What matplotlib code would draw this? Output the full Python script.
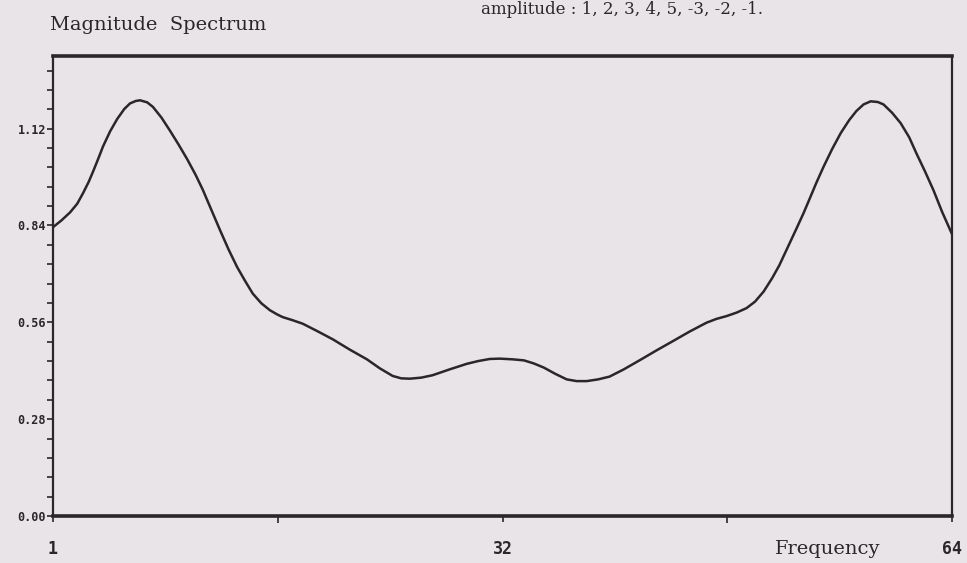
import numpy as np
import matplotlib.pyplot as plt
from matplotlib.ticker import MultipleLocator

# values
freq = [1.0, 1.6, 2.2, 2.7, 3.1, 3.5, 3.8, 4.2, 4.5, 5.0, 5.5, 6.0, 6.4, 6.8, 7.1, 7.6, 8.0,
        8.6, 9.2, 9.8, 10.4, 11.0, 11.5, 12.1, 12.7, 13.3, 13.9, 14.5, 15.0, 15.6, 16.2, 16.7,
        17.1, 17.8, 18.5, 19.5, 20.6, 21.8, 23.0, 23.9, 24.8, 25.4, 26.0, 26.8, 27.6, 28.8,
        30.0, 30.8, 31.6, 32.3, 33.2, 34.0, 34.7, 35.4, 36.2, 37.0, 37.7, 38.4, 39.2, 40.0,
        41.0, 42.1, 43.3, 44.5, 45.6, 46.8, 47.5, 48.2, 48.9, 49.6, 50.2, 50.8, 51.4, 51.9,
        52.5, 53.1, 53.6, 54.0, 54.5, 55.0, 55.6, 56.2, 56.8, 57.3, 57.8, 58.3, 58.8, 59.2,
        59.8, 60.4, 61.0, 61.5, 62.1, 62.7, 63.3, 64.0]
mag = [0.835, 0.855, 0.878, 0.903, 0.933, 0.966, 0.995, 1.036, 1.068, 1.112, 1.148, 1.177,
       1.193, 1.200, 1.202, 1.196, 1.183, 1.152, 1.114, 1.074, 1.032, 0.986, 0.943, 0.885,
       0.827, 0.771, 0.720, 0.677, 0.643, 0.615, 0.595, 0.583, 0.575, 0.566, 0.556, 0.535,
       0.511, 0.481, 0.453, 0.427, 0.405, 0.398, 0.397, 0.400, 0.407, 0.424, 0.440, 0.448,
       0.454, 0.455, 0.453, 0.450, 0.441, 0.429, 0.411, 0.395, 0.390, 0.390, 0.395, 0.403,
       0.424, 0.450, 0.479, 0.507, 0.533, 0.559, 0.570, 0.578, 0.588, 0.601, 0.620, 0.649,
       0.688, 0.725, 0.778, 0.831, 0.876, 0.915, 0.964, 1.010, 1.061, 1.107, 1.145, 1.171,
       1.190, 1.199, 1.197, 1.190, 1.166, 1.136, 1.095, 1.049, 0.997, 0.942, 0.880, 0.815]

yticks = [0.00, 0.28, 0.56, 0.84, 1.12]
ylabels = ['0.00', '0.28', '0.56', '0.84', '1.12']
xticks = [1, 32.5, 64]
xlabels = ['1', '32', '64']

paper = '#e9e4e8'
ink = '#2b2629'

fig = plt.figure(figsize=(9.67, 5.63), dpi=100, facecolor=paper)
ax = fig.add_axes([0.0548, 0.0835, 0.9297, 0.817], facecolor=paper)

ax.plot(freq, mag, color=ink, lw=1.8, solid_joinstyle='round', solid_capstyle='round')

ax.set_xlim(1, 64)
ax.set_ylim(0, 1.33)
ax.set_yticks(yticks)
ax.set_yticklabels(ylabels)
ax.yaxis.set_minor_locator(MultipleLocator(0.056))
ax.set_xticks(xticks)
ax.set_xticklabels(xlabels)
ax.set_xticks([16.75, 48.25], minor=True)

for side in ['top', 'bottom']:
    ax.spines[side].set_linewidth(2.6)
for side in ['left', 'right']:
    ax.spines[side].set_linewidth(1.6)
for sp in ax.spines.values():
    sp.set_color(ink)

ax.tick_params(axis='y', which='both', direction='out', length=4, width=1.2,
               colors=ink, labelsize=8.5, pad=1)
ax.tick_params(axis='x', which='major', direction='out', length=4, width=1.2,
               colors=ink, labelsize=12, pad=13)
ax.tick_params(axis='x', which='minor', direction='out', length=5, width=1.2, colors=ink)
for lab in ax.get_yticklabels() + ax.get_xticklabels():
    lab.set_fontweight('bold')
    lab.set_family('DejaVu Sans Mono')

fig.text(0.052, 0.956, 'Magnitude  Spectrum', family='DejaVu Serif', fontsize=14,
         color=ink, va='center', ha='left')
fig.text(0.801, 0.024, 'Frequency', family='DejaVu Serif', fontsize=14,
         color=ink, va='center', ha='left')
fig.text(0.497, 0.999, 'amplitude : 1, 2, 3, 4, 5, -3, -2, -1.', family='DejaVu Serif',
         fontsize=12, color=ink, va='top', ha='left')

fig.savefig('out.png', dpi=100, facecolor=paper)
